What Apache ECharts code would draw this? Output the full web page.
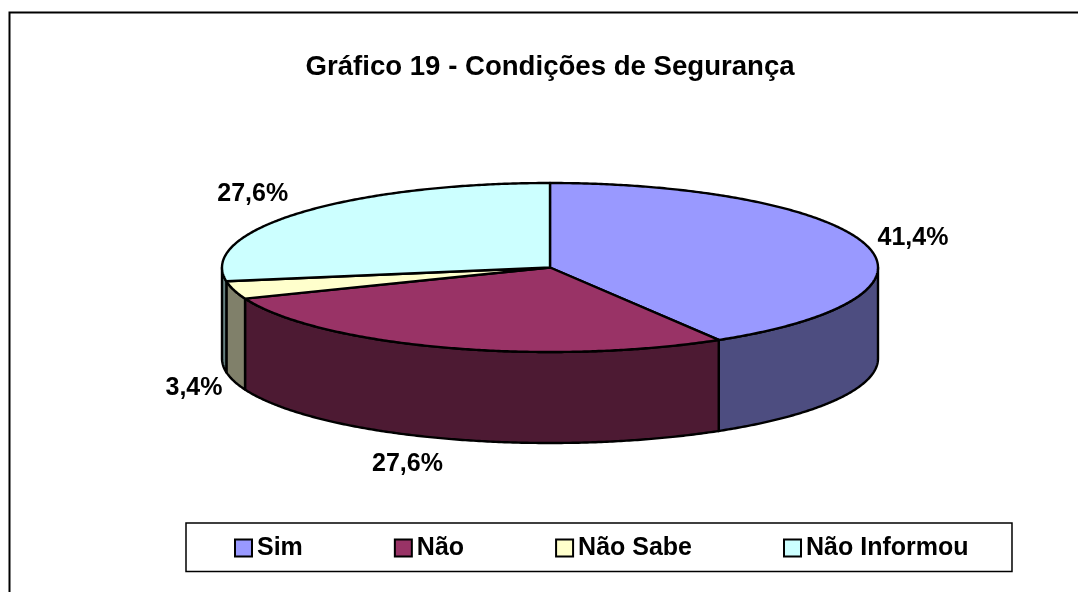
<!DOCTYPE html>
<html><head><meta charset="utf-8">
<style>html,body{margin:0;padding:0;background:#fff}#c{width:1078px;height:592px}</style>
<script src="https://cdn.jsdelivr.net/npm/echarts@6/dist/echarts.min.js"></script>
</head><body><div id="c"></div>
<script>
const categories = ['Sim', 'Não', 'Não Sabe', 'Não Informou'];
const values = [41.4, 27.6, 3.4, 27.6];
const valueLabels = ['41,4%', '27,6%', '3,4%', '27,6%'];
const topColors = ['#9999FF', '#993366', '#FFFFCC', '#CCFFFF'];
const sideColors = ['#4D4D80', '#4D1A33', '#80806A', '#668080'];
const titleText = 'Gráfico 19 - Condições de Segurança';

// layout of the tilted disc
const CX = 550, CY = 267.5, RX = 328, RY = 84.5, DEPTH = 91;
const labelFont = 'bold 25px "Liberation Sans", Arial, sans-serif';
const labelAt = [[913, 238], [407.5, 464.5], [194, 388.5], [252.7, 194]];

const total = values.reduce((a, b) => a + b, 0);
const pt = (deg, dy) => {
  const r = deg * Math.PI / 180;
  return [CX + RX * Math.sin(r), CY - RY * Math.cos(r) + (dy || 0)];
};
const arc = (a, b, dy) => {
  const pts = [], n = Math.max(2, Math.ceil((b - a) * 2));
  for (let i = 0; i <= n; i++) pts.push(pt(a + (b - a) * i / n, dy));
  return pts;
};
function sliceItem(i) {
  const start = values.slice(0, i).reduce((a, b) => a + b, 0) / total * 360;
  const end = start + values[i] / total * 360;
  return function (params, api) {
    const children = [];
    const stroke = { stroke: '#000', lineWidth: 2.4, lineJoin: 'round' };
    const lo = Math.max(start, 90), hi = Math.min(end, 270);
    if (hi > lo) {
      children.push({
        type: 'polygon',
        shape: { points: arc(lo, hi, 0).concat(arc(lo, hi, DEPTH).reverse()) },
        style: Object.assign({ fill: sideColors[i] }, stroke)
      });
    }
    children.push({
      type: 'polygon',
      shape: { points: [[CX, CY]].concat(arc(start, end, 0)) },
      style: Object.assign({ fill: topColors[i] }, stroke)
    });
    children.push({
      type: 'text',
      style: {
        x: labelAt[i][0], y: labelAt[i][1], text: valueLabels[i],
        font: labelFont, fill: '#000', align: 'center', verticalAlign: 'middle'
      }
    });
    return { type: 'group', children };
  };
}
const chart = echarts.init(document.getElementById('c'), null, { renderer: 'canvas' });
chart.setOption({
  animation: false,
  backgroundColor: '#fff',
  title: {
    text: titleText, left: 305.5, top: 53.5, padding: 0,
    textStyle: { fontFamily: '"Liberation Sans", Arial, sans-serif', fontWeight: 'bold', fontSize: 27.6, color: '#000' }
  },
  legend: {
    data: categories, left: 186, top: 523, orient: 'horizontal',
    icon: 'rect', itemWidth: 17, itemHeight: 17, itemGap: 91,
    padding: [12.5, 43.5, 11, 48],
    borderColor: '#000', borderWidth: 1.5, backgroundColor: '#fff',
    selectedMode: false,
    textStyle: { fontFamily: '"Liberation Sans", Arial, sans-serif', fontWeight: 'bold', fontSize: 25, color: '#000' },
    itemStyle: { borderColor: '#000', borderWidth: 2 }
  },
  graphic: [{
    type: 'polyline', silent: true,
    shape: { points: [[9.5, 620], [9.5, 12.5], [1100, 12.5]] },
    style: { stroke: '#000', lineWidth: 2, fill: null }
  }],
  series: categories.map((name, i) => ({
    type: 'custom', name, coordinateSystem: 'none', silent: true,
    itemStyle: { color: topColors[i] },
    data: [[values[i]]],
    renderItem: sliceItem(i)
  }))
});
</script></body></html>
